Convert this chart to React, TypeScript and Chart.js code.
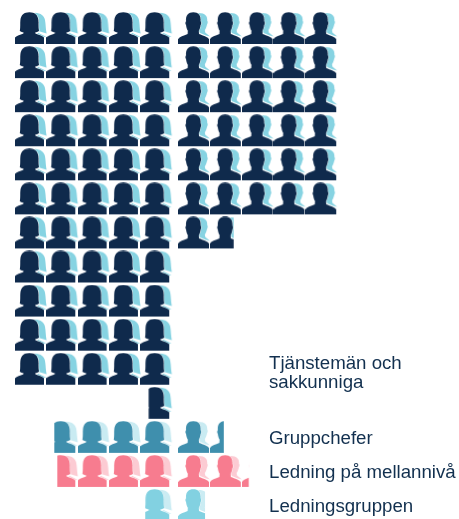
import React, { useEffect, useRef } from "react";
import { Chart, registerables } from "chart.js";

Chart.register(...registerables);

const categories = [
  ["Tjänstemän och", "sakkunniga"],
  ["Gruppchefer"],
  ["Ledning på mellannivå"],
  ["Ledningsgruppen"],
];
const womenCounts = [55.72, 3.73, 3.63, 0.83];
const menCounts = [31.77, 1.45, 2.23, 0.87];
const labelRows = [10.1, 12.03, 13.03, 14.03];
const frontColors = ["#0F2A4C", "#3F8FAD", "#F77C8F", "#82D1E1"];
const backColors = ["#86D3E2", "#C9EBF2", "#FCCBD3", "#CBECF3"];

const PER_ROW = 5;
const ICON = 34;
const MEN_START = 5.208;
const MEN_STEP = 1.016;
const LABEL_X = 269;

function womanFront(): Path2D {
  return new Path2D(
    "M0 32 L0 25.6 C2 24 5 22.8 8.4 21.6 L8.6 20.4 C7.4 20.2 6 19.8 4.8 19 C5.6 15 5 11 5.4 8 C6 3 9 0.3 14.4 0.3 C19.8 0.3 22.8 3 23.4 8 C23.8 11 23.2 15 24 19 C22.8 19.8 21.4 20.2 20.2 20.4 L20.4 21.6 C23.8 22.8 27 24 29 25.6 L29 32 Z"
  );
}
function womanBack(): Path2D {
  return new Path2D(
    "M20 0.8 C26 1 29.2 4 30 8 C30.8 12 30.6 17 31.6 21.5 L20 18 Z M23 20.8 L31.2 24.8 L27 25 L22 22.6 Z"
  );
}
function manFront(): Path2D {
  return new Path2D(
    "M0 32 L0 27.2 C1.5 24.8 5.5 23.6 9.6 22 L9.8 18.8 C8.8 17.2 8.2 14.8 8 13 C7.1 12 7.3 9.8 8 9.3 C7.5 3.2 10.4 0.2 15.3 0.2 C20.2 0.2 23.1 3.2 22.6 9.3 C23.3 9.8 23.5 12 22.6 13 C22.4 14.8 21.8 17.2 20.8 18.8 L21 22 C25.1 23.6 29.5 24.8 31 27.2 L31 32 Z"
  );
}
function manBack(): Path2D {
  return new Path2D(
    "M20 1 C27 0.8 29.6 4 29.2 8.8 C30 9.4 29.8 11.5 29 12.4 C28.6 14.5 27.8 16.5 26.8 18 L27.2 20.4 C28.6 21.6 30.6 23 32 24.4 L28 23.4 L22 21 L20 18 Z"
  );
}

type Cell = { x: number; y: number; frac: number };

function makeIcon(woman: boolean, front: string, back: string, frac: number) {
  const c = document.createElement("canvas");
  c.width = ICON;
  c.height = ICON;
  const g = c.getContext("2d")!;
  g.save();
  g.beginPath();
  if (woman) {
    const left = 30 * (1 - frac);
    g.rect(frac >= 1 ? 0 : left, 0, ICON, ICON);
  } else {
    g.rect(0, 0, frac >= 1 ? ICON : 31 * frac, ICON);
  }
  g.clip();
  g.fillStyle = back;
  g.fill(woman ? womanBack() : manBack());
  const shape = woman ? womanFront() : manFront();
  g.strokeStyle = "#ffffff";
  g.lineWidth = 1;
  g.stroke(shape);
  g.fillStyle = front;
  g.fill(shape);
  g.restore();
  return c;
}

function cells(count: number, startRow: number, woman: boolean): Cell[] {
  const out: Cell[] = [];
  let left = count;
  let i = 0;
  while (left > 0.001) {
    const frac = Math.min(1, left);
    const row = startRow + Math.floor(i / PER_ROW);
    const col = i % PER_ROW;
    out.push({
      x: woman ? PER_ROW - 1 - col : MEN_START + col * MEN_STEP,
      y: row,
      frac,
    });
    left -= frac;
    i += 1;
  }
  return out;
}

function buildDatasets() {
  const sets: any[] = [];
  let row = 0;
  categories.forEach((cat, i) => {
    [true, false].forEach((woman) => {
      const data = cells(woman ? womenCounts[i] : menCounts[i], row, woman);
      const icons = data.map((d) =>
        makeIcon(woman, frontColors[i], backColors[i], d.frac)
      );
      sets.push({
        label: cat.join(" ") + (woman ? " kvinnor" : " män"),
        data,
        showLine: false,
        clip: false,
        pointRadius: 16,
        pointStyle: (ctx: any) => icons[ctx.dataIndex] ?? icons[0],
      });
    });
    row += Math.ceil(womenCounts[i] / PER_ROW);
  });
  return sets;
}

export default function App() {
  const ref = useRef<HTMLCanvasElement>(null);
  useEffect(() => {
    const chart = new Chart(ref.current!, {
      type: "scatter",
      data: { datasets: buildDatasets() },
      options: {
        animation: false,
        responsive: false,
        layout: { padding: 0, autoPadding: false },
        plugins: { legend: { display: false }, tooltip: { enabled: false } },
        scales: {
          x: { type: "linear", display: false, min: -1.022, max: 13.642 },
          y: {
            type: "linear",
            position: "left",
            reverse: true,
            min: -0.851,
            max: 14.382,
            grid: { display: false, drawTicks: false },
            border: { display: false },
            beforeFit: (s: any) => {
              s.options.ticks.padding = 0;
            },
            afterFit: (s: any) => {
              s.width = 0;
              s.paddingTop = 0;
              s.paddingBottom = 0;
              s.options.ticks.padding = LABEL_X;
            },
            afterBuildTicks: (s: any) => {
              s.ticks = labelRows.map((value) => ({ value }));
            },
            ticks: {
              mirror: true,
              padding: 0,
              autoSkip: false,
              color: "#12304F",
              font: { family: "'Liberation Sans'", size: 18.67, lineHeight: 1.03 },
              callback: (v: any) => categories[labelRows.indexOf(v)] ?? "",
            },
          },
        },
      },
    } as any);
    return () => chart.destroy();
  }, []);
  return (
    <canvas
      ref={ref}
      width={459}
      height={519}
      style={{ position: "absolute", top: 0, left: 0, display: "block" }}
    />
  );
}
